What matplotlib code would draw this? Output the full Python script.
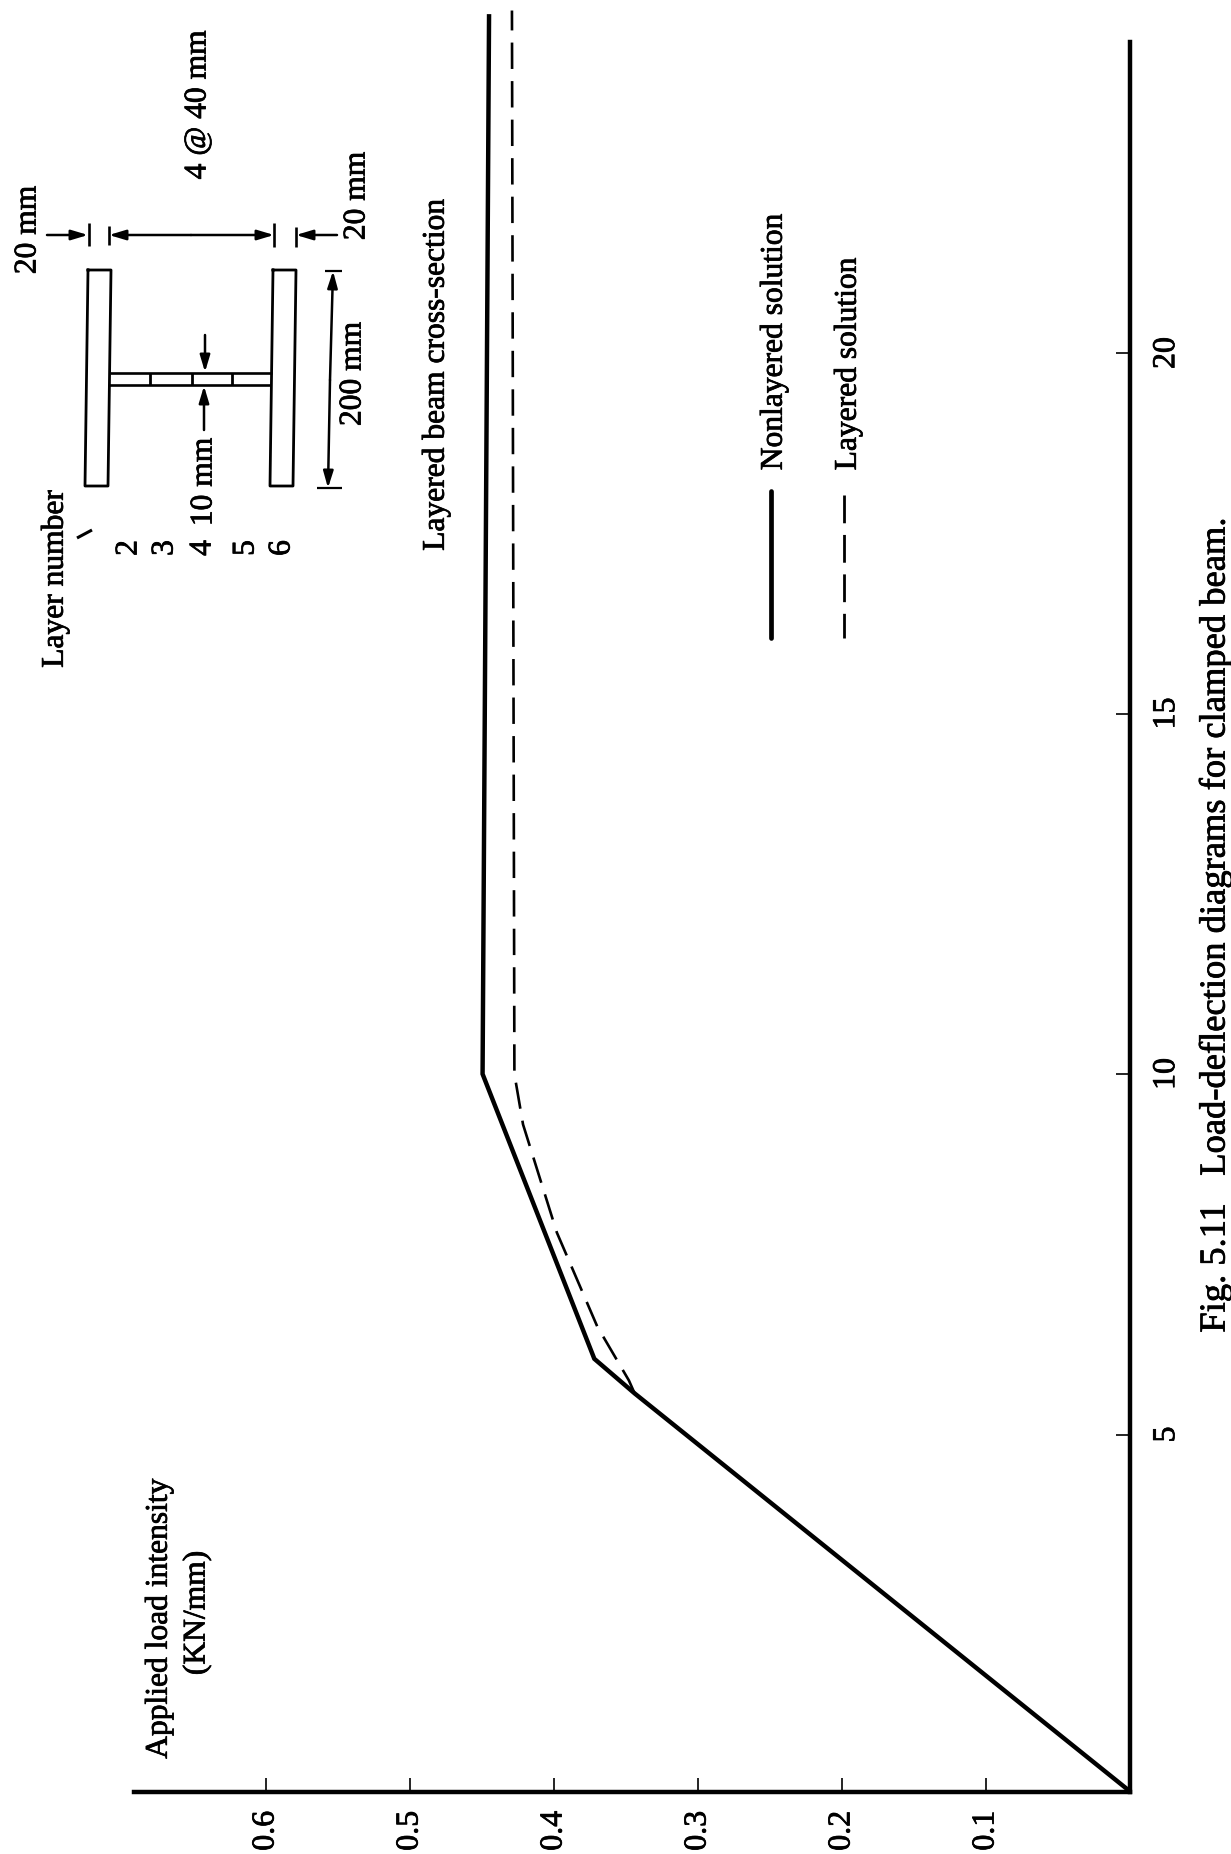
import matplotlib
matplotlib.use("Agg")
import matplotlib.pyplot as plt
import matplotlib.patheffects as pe

W, H = 1231, 1854
plt.rcParams['font.family'] = ['Liberation Serif', 'DejaVu Serif']

# data: deflection (horizontal quantity of the original, drawn vertically), load intensity
nonlayered_deflection = [0.05, 5.57, 6.05, 10.0, 24.7]
nonlayered_load = [0, 0.344, 0.372, 0.4496, 0.4451]
layered_deflection = [5.57, 5.75, 6.5, 7.8, 9.3, 10.0, 24.75]
layered_load = [0.344, 0.348, 0.370, 0.398, 0.4215, 0.4275, 0.4292]
load_ticks = [0.1, 0.2, 0.3, 0.4, 0.5, 0.6]
load_labels = ['0.1', '0.2', '0.3', '0.4', '0.5', '0.6']
deflection_ticks = [5, 10, 15, 20]
deflection_labels = ['5', '10', '15', '20']

fig = plt.figure(figsize=(W / 100, H / 100), dpi=100, facecolor='white')
heavy = [pe.withStroke(linewidth=0.55, foreground='black')]

L, R, T, B = 134, 1130, 42, 1792
ax = fig.add_axes([L / W, 1 - B / H, (R - L) / W, (B - T) / H])
ax.set_xlim((R - L) / 1440, 0)
ax.set_ylim(3 / 72.1, (1795 - T) / 72.1)
ax.patch.set_alpha(0)
for s in ('left', 'top'):
    ax.spines[s].set_visible(False)
for s in ('right', 'bottom'):
    ax.spines[s].set_linewidth(3.2)
ax.plot(nonlayered_load, nonlayered_deflection, color='black', lw=3.2, clip_on=False,
        solid_joinstyle='miter', solid_capstyle='butt')
ax.plot(layered_load, layered_deflection, color='black', lw=1.9, clip_on=False,
        dashes=(10, 4.6))

ax.yaxis.tick_right()
ax.set_xticks(load_ticks, load_labels)
ax.set_yticks(deflection_ticks, deflection_labels)
ax.tick_params(axis='x', direction='in', length=10, width=1.2, labelsize=23, labelrotation=90, pad=13.5)
ax.tick_params(axis='y', direction='in', length=10, width=1.2, labelsize=23, labelrotation=90, pad=16)
for t in ax.get_yticklabels():
    t.set_va('center')
    t.set_path_effects(heavy)
for t in ax.get_xticklabels():
    t.set_ha('center')
    t.set_path_effects(heavy)

# overlay in pixel coordinates for the annotations and the section sketch
ov = fig.add_axes([0, 0, 1, 1])
ov.set_xlim(0, W)
ov.set_ylim(H, 0)
ov.axis('off')
ov.patch.set_alpha(0)


def txt(x, y, s, size=22.7):
    ov.text(x, y, s, rotation=90, ha='center', va='center', fontsize=size, color='black',
            path_effects=heavy)


def seg(x0, y0, x1, y1, lw=1.6):
    ov.plot([x0, x1], [y0, y1], color='black', lw=lw, solid_capstyle='butt')


def arrow(x0, y0, x1, y1):
    ov.annotate('', xy=(x1, y1), xytext=(x0, y0),
                arrowprops=dict(arrowstyle='-|>,head_length=1.0,head_width=0.3', color='black',
                                lw=1.8, shrinkA=0, shrinkB=0))


txt(159, 1619, 'Applied load intensity')
txt(197, 1613, '(KN/mm)')
txt(774, 342, 'Nonlayered solution')
txt(848, 364, 'Layered solution')
txt(1215, 925, 'Fig. 5.11   Load-deflection diagrams for clamped beam.', size=26.3)
txt(436, 375, 'Layered beam cross-section')
txt(55, 579, 'Layer number')
txt(28, 230, '20 mm')
txt(357, 196, '20 mm')
txt(198, 105, '4 @ 40 mm')
txt(353, 374, '200 mm')
txt(204, 482, '10 mm')
for x, s in zip((129, 165, 203, 246, 282), '23456'):
    txt(x, 548, s)

# legend samples
ov.plot([771, 771], [491, 638], color='black', lw=3.4, solid_capstyle='round')
ov.plot([844, 844], [495, 638], color='black', lw=2.0, dashes=(10, 4.2))

# section sketch
for xs in ((88, 111, 108, 85, 88), (273, 296, 293, 270, 273)):
    ov.plot(xs, (270, 270, 486, 486, 270), color='black', lw=2.0)
seg(110, 373, 272, 373, lw=1.9)
seg(109, 385, 271, 385, lw=1.9)
for x in (150, 192, 232):
    seg(x, 373, x, 385, lw=2.0)
seg(77, 538, 92, 530, lw=2.2)

# dimensions
for x, y0, y1 in ((88.5, 223, 246), (109, 226, 245), (274, 223, 247), (296, 227, 247)):
    seg(x, y0, x, y1, lw=1.9)
arrow(47, 235, 88, 235)
arrow(191, 235, 109, 235)
arrow(191, 235, 274, 235)
arrow(337, 235, 296, 235)
seg(325, 271, 342, 271)
seg(317, 488, 342, 488)
arrow(330, 380, 333, 271)
arrow(330, 380, 328, 488)
arrow(205, 335, 205, 372)
arrow(204, 430, 204, 386)

fig.savefig('out.png', dpi=100, facecolor='white')
